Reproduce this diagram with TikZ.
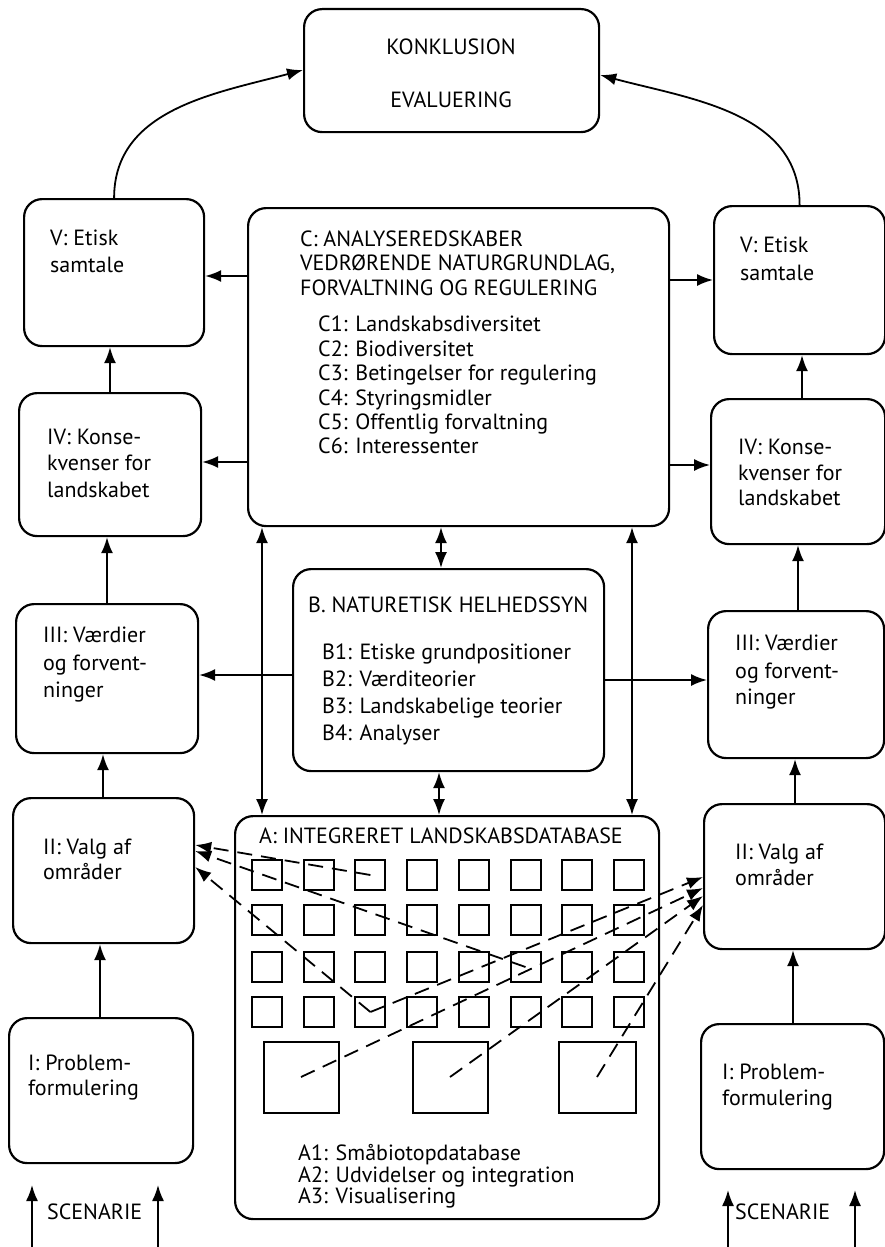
\documentclass[tikz,border=0pt]{standalone}
\usepackage{fontspec}
\setmainfont{PT Sans}
\usetikzlibrary{arrows.meta}
\begin{document}
\begin{tikzpicture}[x=1pt,y=-1pt,
  box/.style={draw, line width=2.2pt, rounded corners=18pt, anchor=north west, inner sep=0pt},
  sq/.style={draw, line width=2pt, inner sep=0pt},
  tip/.style={},
  arr/.style={line width=1.8pt, -{Latex[length=16pt,width=12pt]}},
  darr/.style={line width=1.8pt, {Latex[length=16pt,width=12pt]}-{Latex[length=16pt,width=12pt]}},
  dasharr/.style={line width=1.8pt, dash pattern=on 15pt off 9pt, -{Latex[length=16pt,width=12pt]}},
  txt/.style={anchor=base west, inner sep=0pt, font=\fontsize{22}{24}\selectfont},
  ctxt/.style={anchor=center, inner sep=0pt, font=\fontsize{22}{24}\selectfont},
]
\useasboundingbox (0,0) rectangle (885,1247);

% boxes
\node[box, minimum width=295pt, minimum height=123pt] (K) at (303,8) {};
\node[box, minimum width=180pt, minimum height=147pt] (VL) at (23,198) {};
\node[box, minimum width=421pt, minimum height=318pt] (C) at (247,207) {};
\node[box, minimum width=171pt, minimum height=148pt] (VR) at (713,205) {};
\node[box, minimum width=182pt, minimum height=143pt] (IVL) at (18,392) {};
\node[box, minimum width=174pt, minimum height=145pt] (IVR) at (710,398) {};
\node[box, minimum width=311pt, minimum height=202pt] (B) at (292,568) {};
\node[box, minimum width=182pt, minimum height=149pt] (IIIL) at (15,603) {};
\node[box, minimum width=176pt, minimum height=147pt] (IIIR) at (707,610) {};
\node[box, minimum width=181pt, minimum height=145pt] (IIL) at (12,797) {};
\node[box, minimum width=181pt, minimum height=145pt] (IIR) at (703,803) {};
\node[box, minimum width=424pt, minimum height=403pt] (A) at (234,815) {};
\node[box, minimum width=184pt, minimum height=145pt] (IL) at (8,1017) {};
\node[box, minimum width=183pt, minimum height=145pt] (IR) at (700,1023) {};

% texts
\node[ctxt] (tK1) at (451,47) {KONKLUSION};
\node[ctxt] (tK2) at (451,100) {EVALUERING};
\node[txt] (tVL1) at (50,245) {V: Etisk};
\node[txt] (tVL2) at (50,272) {samtale};
\node[txt] (tVR1) at (740,252) {V: Etisk};
\node[txt] (tVR2) at (740,280) {samtale};
\node[txt] (tIVL1) at (47,444) {IV: Konse-};
\node[txt] (tIVL2) at (47,470) {kvenser for};
\node[txt] (tIVL3) at (47,497) {landskabet};
\node[txt] (tIVR1) at (738,454) {IV: Konse-};
\node[txt] (tIVR2) at (738,480) {kvenser for};
\node[txt] (tIVR3) at (738,505) {landskabet};
\node[txt] (tIIIL1) at (43,642) {III: Værdier};
\node[txt] (tIIIL2) at (43,670) {og forvent-};
\node[txt] (tIIIL3) at (43,697) {ninger};
\node[txt] (tIIIR1) at (735,650) {III: Værdier};
\node[txt] (tIIIR2) at (735,678) {og forvent-};
\node[txt] (tIIIR3) at (735,704) {ninger};
\node[txt] (tIIL1) at (43,854) {II: Valg af};
\node[txt] (tIIL2) at (43,879) {områder};
\node[txt] (tIIR1) at (735,859) {II: Valg af};
\node[txt] (tIIR2) at (735,885) {områder};
\node[txt] (tIL1) at (28,1070) {I: Problem-};
\node[txt] (tIL2) at (28,1095) {formulering};
\node[txt] (tIR1) at (722,1079) {I: Problem-};
\node[txt] (tIR2) at (722,1105) {formulering};

\node[txt] (tC1) at (300,246) {C: ANALYSEREDSKABER};
\node[txt] (tC2) at (300,270) {VEDRØRENDE NATURGRUNDLAG,};
\node[txt] (tC3) at (300,295) {FORVALTNING OG REGULERING};
\node[txt] (tCa) at (318,331) {C1: Landskabsdiversitet};
\node[txt] (tCb) at (318,356) {C2: Biodiversitet};
\node[txt] (tCc) at (318,380) {C3: Betingelser for regulering};
\node[txt] (tCd) at (318,405) {C4: Styringsmidler};
\node[txt] (tCe) at (318,429) {C5: Offentlig forvaltning};
\node[txt] (tCf) at (318,453) {C6: Interessenter};

\node[txt] (tB0) at (308,612) {B. NATURETISK HELHEDSSYN};
\node[txt] (tB1) at (322,659) {B1: Etiske grundpositioner};
\node[txt] (tB2) at (322,686) {B2: Værditeorier};
\node[txt] (tB3) at (322,713) {B3: Landskabelige teorier};
\node[txt] (tB4) at (322,740) {B4: Analyser};

\node[txt] (tA0) at (259,843) {A: INTEGRERET LANDSKABSDATABASE};
\node[txt] (tA1) at (298,1160) {A1: Småbiotopdatabase};
\node[txt] (tA2) at (298,1182) {A2: Udvidelser og integration};
\node[txt] (tA3) at (298,1203) {A3: Visualisering};

\node[txt] (tSL) at (47,1219) {SCENARIE};
\node[txt] (tSR) at (735,1219) {SCENARIE};

% squares grid
\foreach \r/\yy in {1/875,2/920,3/967,4/1012}{
  \foreach \c in {1,...,8}{
    \node[sq, minimum width=30pt, minimum height=30pt] (s\r\c) at ({267+51.7*(\c-1)},\yy) {};
  }
}
\node[sq, minimum width=75pt, minimum height=71pt] (big1) at (301,1077) {};
\node[sq, minimum width=75pt, minimum height=71pt] (big2) at (450,1077) {};
\node[sq, minimum width=77pt, minimum height=71pt] (big3) at (597,1077) {};

% curved arrows to conclusion
\draw[arr] (VL.north) to[out=90,in=195] (K.west |- 0,70);
\draw[arr] (VR.north) to[out=90,in=-15] (K.east |- 0,75);

% C to side boxes
\draw[arr] (C.west |- 0,276) -- (VL.east |- 0,276);
\draw[arr] (C.west |- 0,462) -- (IVL.east |- 0,462);
\draw[arr] (C.east |- 0,280) -- (VR.west |- 0,280);
\draw[arr] (C.east |- 0,465) -- (IVR.west |- 0,465);

% B to side boxes
\draw[arr] (B.west |- 0,675) -- (IIIL.east |- 0,675);
\draw[arr] (B.east |- 0,680) -- (IIIR.west |- 0,680);

% double arrows
\draw[darr] (C.south -| 262,0) -- (A.north -| 262,0);
\draw[darr] (C.south -| 632,0) -- (A.north -| 632,0);
\draw[darr] (C.south -| 441,0) -- (B.north -| 441,0);
\draw[darr] (B.south -| 439,0) -- (A.north -| 439,0);

% vertical chain left
\draw[arr] (IVL.north -| 110,0) -- (VL.south -| 110,0);
\draw[arr] (IIIL.north -| 107,0) -- (IVL.south -| 107,0);
\draw[arr] (IIL.north -| 103,0) -- (IIIL.south -| 103,0);
\draw[arr] (IL.north -| 100,0) -- (IIL.south -| 100,0);
% vertical chain right
\draw[arr] (IVR.north -| 802,0) -- (VR.south -| 802,0);
\draw[arr] (IIIR.north -| 798,0) -- (IVR.south -| 798,0);
\draw[arr] (IIR.north -| 795,0) -- (IIIR.south -| 795,0);
\draw[arr] (IR.north -| 793,0) -- (IIR.south -| 793,0);

% scenario arrows
\coordinate (sc1) at (32,1247);
\coordinate (sc2) at (158,1247);
\coordinate (sc3) at (728,1247);
\coordinate (sc4) at (855,1247);
\draw[arr] (sc1) -- (sc1 |- 0,1185);
\draw[arr] (sc2) -- (sc2 |- 0,1185);
\draw[arr] (sc3) -- (sc3 |- 0,1190);
\draw[arr] (sc4) -- (sc4 |- 0,1190);

% dashed arrows
\draw[dasharr] (s13.center) -- (IIL.east |- 0,845);
\draw[dasharr] (s36.center) -- (IIL.east |- 0,851);
\draw[dasharr] (s43.center) -- (IIL.east |- 0,867);
\draw[dasharr] (s43.center) -- (IIR.west |- 0,877);
\draw[dasharr] (big1.center) -- (IIR.west |- 0,888);
\draw[dasharr] (big2.center) -- (IIR.west |- 0,896);
\draw[dasharr] (big3.center) -- (IIR.west |- 0,905);
\end{tikzpicture}
\end{document}
